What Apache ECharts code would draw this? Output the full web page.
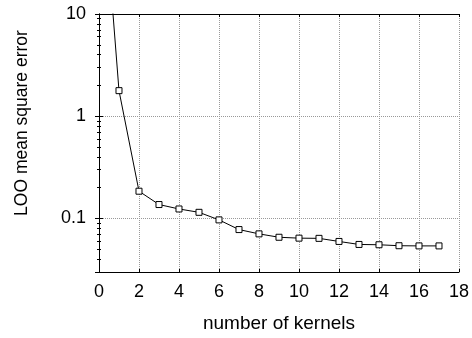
<!DOCTYPE html>
<html>
<head>
<meta charset="utf-8">
<script src="https://cdn.jsdelivr.net/npm/echarts@6/dist/echarts.min.js"></script>
<style>
  html, body { margin: 0; padding: 0; background: #fff; }
  #container { width: 472px; height: 338px; }
</style>
</head>
<body>
<div id="container"></div>
<script>
  // number of kernels vs LOO error
  var kernels = [0, 1, 2, 3, 4, 5, 6, 7, 8, 9, 10, 11, 12, 13, 14, 15, 16, 17];
  var looError = [560, 1.78, 0.185, 0.137, 0.124, 0.115, 0.097, 0.078, 0.0708, 0.0656,
                  0.0643, 0.064, 0.0597, 0.0558, 0.0554, 0.0542, 0.054, 0.054];

  var dom = document.getElementById('container');
  var myChart = echarts.init(dom);
  var font = 'Liberation Sans, Arial, Helvetica, sans-serif';
  var gridLine = { show: true, lineStyle: { color: '#999', type: 'dotted', width: 1 } };
  var axisLine = { show: true, lineStyle: { color: '#000', width: 1 } };

  var points = kernels.map(function (k, i) { return [k, looError[i]]; });

  var option = {
    animation: false,
    grid: { left: 99, right: 13, top: 14, bottom: 61 },
    xAxis: [
      {
        type: 'value',
        min: 0,
        max: 18,
        interval: 2,
        position: 'bottom',
        name: 'number of kernels',
        nameLocation: 'middle',
        nameGap: 42,
        nameTextStyle: { fontFamily: font, fontSize: 19, color: '#000' },
        axisLine: axisLine,
        axisTick: { show: true, inside: true, length: 3, lineStyle: { color: '#000' } },
        axisLabel: { fontFamily: font, fontSize: 18, color: '#000', margin: 11 },
        splitLine: gridLine
      },
      {
        type: 'value',
        min: 0,
        max: 18,
        interval: 2,
        position: 'top',
        axisLine: axisLine,
        axisTick: { show: true, inside: true, length: 3, lineStyle: { color: '#000' } },
        axisLabel: { show: false },
        splitLine: { show: false }
      }
    ],
    yAxis: [
      {
        type: 'log',
        logBase: 10,
        min: 0.03,
        max: 10,
        position: 'left',
        name: 'LOO mean square error',
        nameLocation: 'middle',
        nameRotate: 90,
        nameGap: 68,
        nameTextStyle: { fontFamily: font, fontSize: 17.5, color: '#000', padding: [0, 0, 0, 40] },
        axisLine: axisLine,
        axisTick: { show: true, inside: true, length: 4, lineStyle: { color: '#000' } },
        minorTick: { show: true, splitNumber: 9, length: 2, lineStyle: { color: '#000' } },
        axisLabel: { fontFamily: font, fontSize: 18, color: '#000', margin: 13, showMinLabel: false },
        splitLine: gridLine
      },
      {
        type: 'log',
        logBase: 10,
        min: 0.03,
        max: 10,
        position: 'right',
        axisLine: axisLine,
        axisTick: { show: true, inside: true, length: 4, lineStyle: { color: '#000' } },
        minorTick: { show: true, splitNumber: 9, length: 2, lineStyle: { color: '#000' } },
        axisLabel: { show: false },
        splitLine: { show: false }
      }
    ],
    series: [
      {
        type: 'line',
        xAxisIndex: 0,
        yAxisIndex: 0,
        data: points,
        clip: true,
        symbol: 'rect',
        symbolSize: 6,
        showAllSymbol: true,
        itemStyle: { color: '#fff', borderColor: '#000', borderWidth: 1 },
        lineStyle: { color: '#000', width: 1 }
      }
    ]
  };
  myChart.setOption(option);
</script>
</body>
</html>
